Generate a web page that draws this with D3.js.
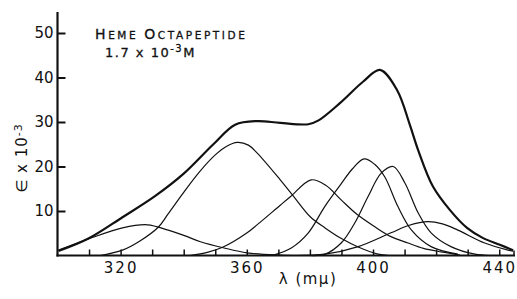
<!DOCTYPE html>
<html>
<head>
<meta charset="utf-8">
<script src="https://cdn.jsdelivr.net/npm/d3@7"></script>
<style>
  body { margin: 0; background: #fff; }
  svg text { font-family: "DejaVu Sans", sans-serif; fill: #111; }
</style>
</head>
<body>
<div id="chart"></div>
<script>
// measured spectrum, [wavelength mu, epsilon x 10^-3]
var total = [[300.3,1.0],[309.8,3.8],[320.6,8.6],[331,13.4],[340,18.4],[349.4,25],[356.3,29.4],
  [363.3,30.2],[370.6,29.8],[379.5,29.5],[382.6,30.3],[389.6,34.3],[396.9,39.1],[402.2,41.7],
  [407.6,37.2],[411.7,29.3],[414.3,23.7],[419,15.5],[424.4,10.2],[429.8,6.2],[434.9,3.9],
  [440.2,2.4],[444.4,1.2]];
// resolved bands
var band1 = [[300.3,1.2],[309.8,3.7],[320.6,6.2],[328.5,6.9],[335.1,5.7],[340.5,4.4],[345.3,3.1],
  [352.5,1.75],[360.1,0.6],[370.6,0.1],[376.9,0]];
var band2 = [[313.6,0],[320.6,1.2],[326,3.2],[332,6.4],[335,9.3],[340,14.2],[345,18.8],[350,22.6],
  [353.5,24.5],[357,25.4],[360.5,24.8],[363.3,23],[370.6,17],[374.7,13.4],[380.1,8.7],[384.8,6.2],
  [390,3.8],[395.3,1.9],[401.6,0.3],[405,0]];
var band3 = [[342,0],[347.5,0.7],[352.5,1.9],[360.1,5.1],[363.6,7.1],[370.6,11.3],[373.8,13.2],
  [380.4,17],[385,15.8],[389.9,12.5],[395,9.2],[400.7,6.4],[405.5,4.3],[411.1,2.8],[416,1.6],[421.6,0.8],[427.6,0.1]];
var band4 = [[368,0],[374.1,1.7],[379.5,5.1],[384.7,11],[390,16.2],[393.5,19.5],[397.2,21.7],[400.5,20.5],
  [403.7,17.7],[407.9,11],[412.2,5.7],[418.4,2.0],[426.9,0.3]];
var band5 = [[380,0],[384.8,0.3],[389.9,2.8],[394.2,7.3],[398.4,13.2],[402.6,18.5],[406.4,20],
  [410.1,16.3],[414.3,9.6],[418.4,5.1],[424.7,2.0],[432.3,0.3],[437,0]];
var band6 = [[375,0],[384.8,0.3],[395.3,2.0],[405.7,5.1],[411.5,6.8],[417.4,7.6],[422,7.1],[426.9,5.7],
  [435.4,2.8],[442.8,1.2],[444.4,1.0]];

var yTicks = [10, 20, 30, 40, 50];
var xTicks = [310, 320, 330, 340, 350, 360, 370, 380, 390, 400, 410, 420, 430, 440];
var xLabels = [320, 360, 400, 440];

var width = 517, height = 299;
var svg = d3.select('#chart').append('svg')
    .attr('width', width)
    .attr('height', height);

var x = d3.scaleLinear().domain([300, 445]).range([57.5, 515]);
var y = d3.scaleLinear().domain([0, 55]).range([255.5, 10.75]);

var line = d3.line()
    .x(function(d) { return x(d[0]); })
    .y(function(d) { return y(d[1]); })
    .curve(d3.curveCatmullRom.alpha(0.5));

[band1, band2, band3, band4, band5, band6].forEach(function(b) {
    svg.append('path')
        .datum(b)
        .attr('d', line)
        .attr('fill', 'none')
        .attr('stroke', '#111')
        .attr('stroke-width', 1.2);
});
svg.append('path')
    .datum(total)
    .attr('d', line)
    .attr('fill', 'none')
    .attr('stroke', '#111')
    .attr('stroke-width', 2.2)
    .attr('stroke-linejoin', 'round');

// axes
var yAxis = svg.append('g')
    .attr('transform', 'translate(' + x(300) + ',0)')
    .call(d3.axisLeft(y).tickValues(yTicks).tickSizeInner(-8).tickSizeOuter(0).tickPadding(4));
yAxis.select('.domain').remove();
yAxis.selectAll('line').attr('stroke', '#111').attr('stroke-width', 2);
yAxis.selectAll('text').style('font-size', '15px').attr('fill', '#111');

var xAxis = svg.append('g')
    .attr('transform', 'translate(0,' + y(0) + ')')
    .call(d3.axisBottom(x).tickValues(xTicks).tickSizeInner(-6).tickSizeOuter(0).tickPadding(7)
        .tickFormat(function(d) { return xLabels.indexOf(d) >= 0 ? d : ''; }));
xAxis.select('.domain').remove();
xAxis.selectAll('line').attr('stroke', '#111').attr('stroke-width', 1.5);
xAxis.selectAll('text').style('font-size', '15px').style('letter-spacing', '2px').attr('fill', '#111');

svg.append('line')
    .attr('x1', x(300)).attr('x2', x(300))
    .attr('y1', 12).attr('y2', y(0) + 1)
    .attr('stroke', '#111').attr('stroke-width', 2.2);
svg.append('line')
    .attr('x1', x(300) - 1).attr('x2', x(445))
    .attr('y1', y(0)).attr('y2', y(0))
    .attr('stroke', '#111').attr('stroke-width', 2.2);
svg.append('line')
    .attr('x1', x(445) - 1).attr('x2', x(445) - 1)
    .attr('y1', y(0)).attr('y2', y(0) - 5)
    .attr('stroke', '#111').attr('stroke-width', 1.5);

// titles
svg.append('text')
    .attr('x', 308).attr('y', 284)
    .attr('text-anchor', 'middle')
    .style('font-size', '15px')
    .style('letter-spacing', '1.5px')
    .text('λ (mμ)');

var yt = svg.append('text')
    .attr('transform', 'translate(27,158) rotate(-90)')
    .attr('text-anchor', 'middle')
    .style('font-size', '15px')
    .style('letter-spacing', '1px');
yt.append('tspan').text('∈ x 10');
yt.append('tspan').attr('dy', -5).style('font-size', '11px').text('-3');

// annotation in small caps
var a1 = svg.append('text')
    .attr('x', 95).attr('y', 38.5)
    .style('letter-spacing', '2.6px')
    .style('stroke', '#111').style('stroke-width', 0.3);
[['H', 14], ['EME ', 10.5], ['O', 14], ['CTAPEPTIDE', 10.5]].forEach(function(p) {
    a1.append('tspan').style('font-size', p[1] + 'px').text(p[0]);
});
var a2 = svg.append('text')
    .attr('x', 105).attr('y', 56.5)
    .style('font-size', '13px')
    .style('letter-spacing', '1.5px')
    .style('stroke', '#111').style('stroke-width', 0.3);
a2.append('tspan').text('1.7 x 10');
a2.append('tspan').attr('dy', -5).style('font-size', '10px').text('-3');
a2.append('tspan').attr('dy', 5).text('M');
</script>
</body>
</html>
